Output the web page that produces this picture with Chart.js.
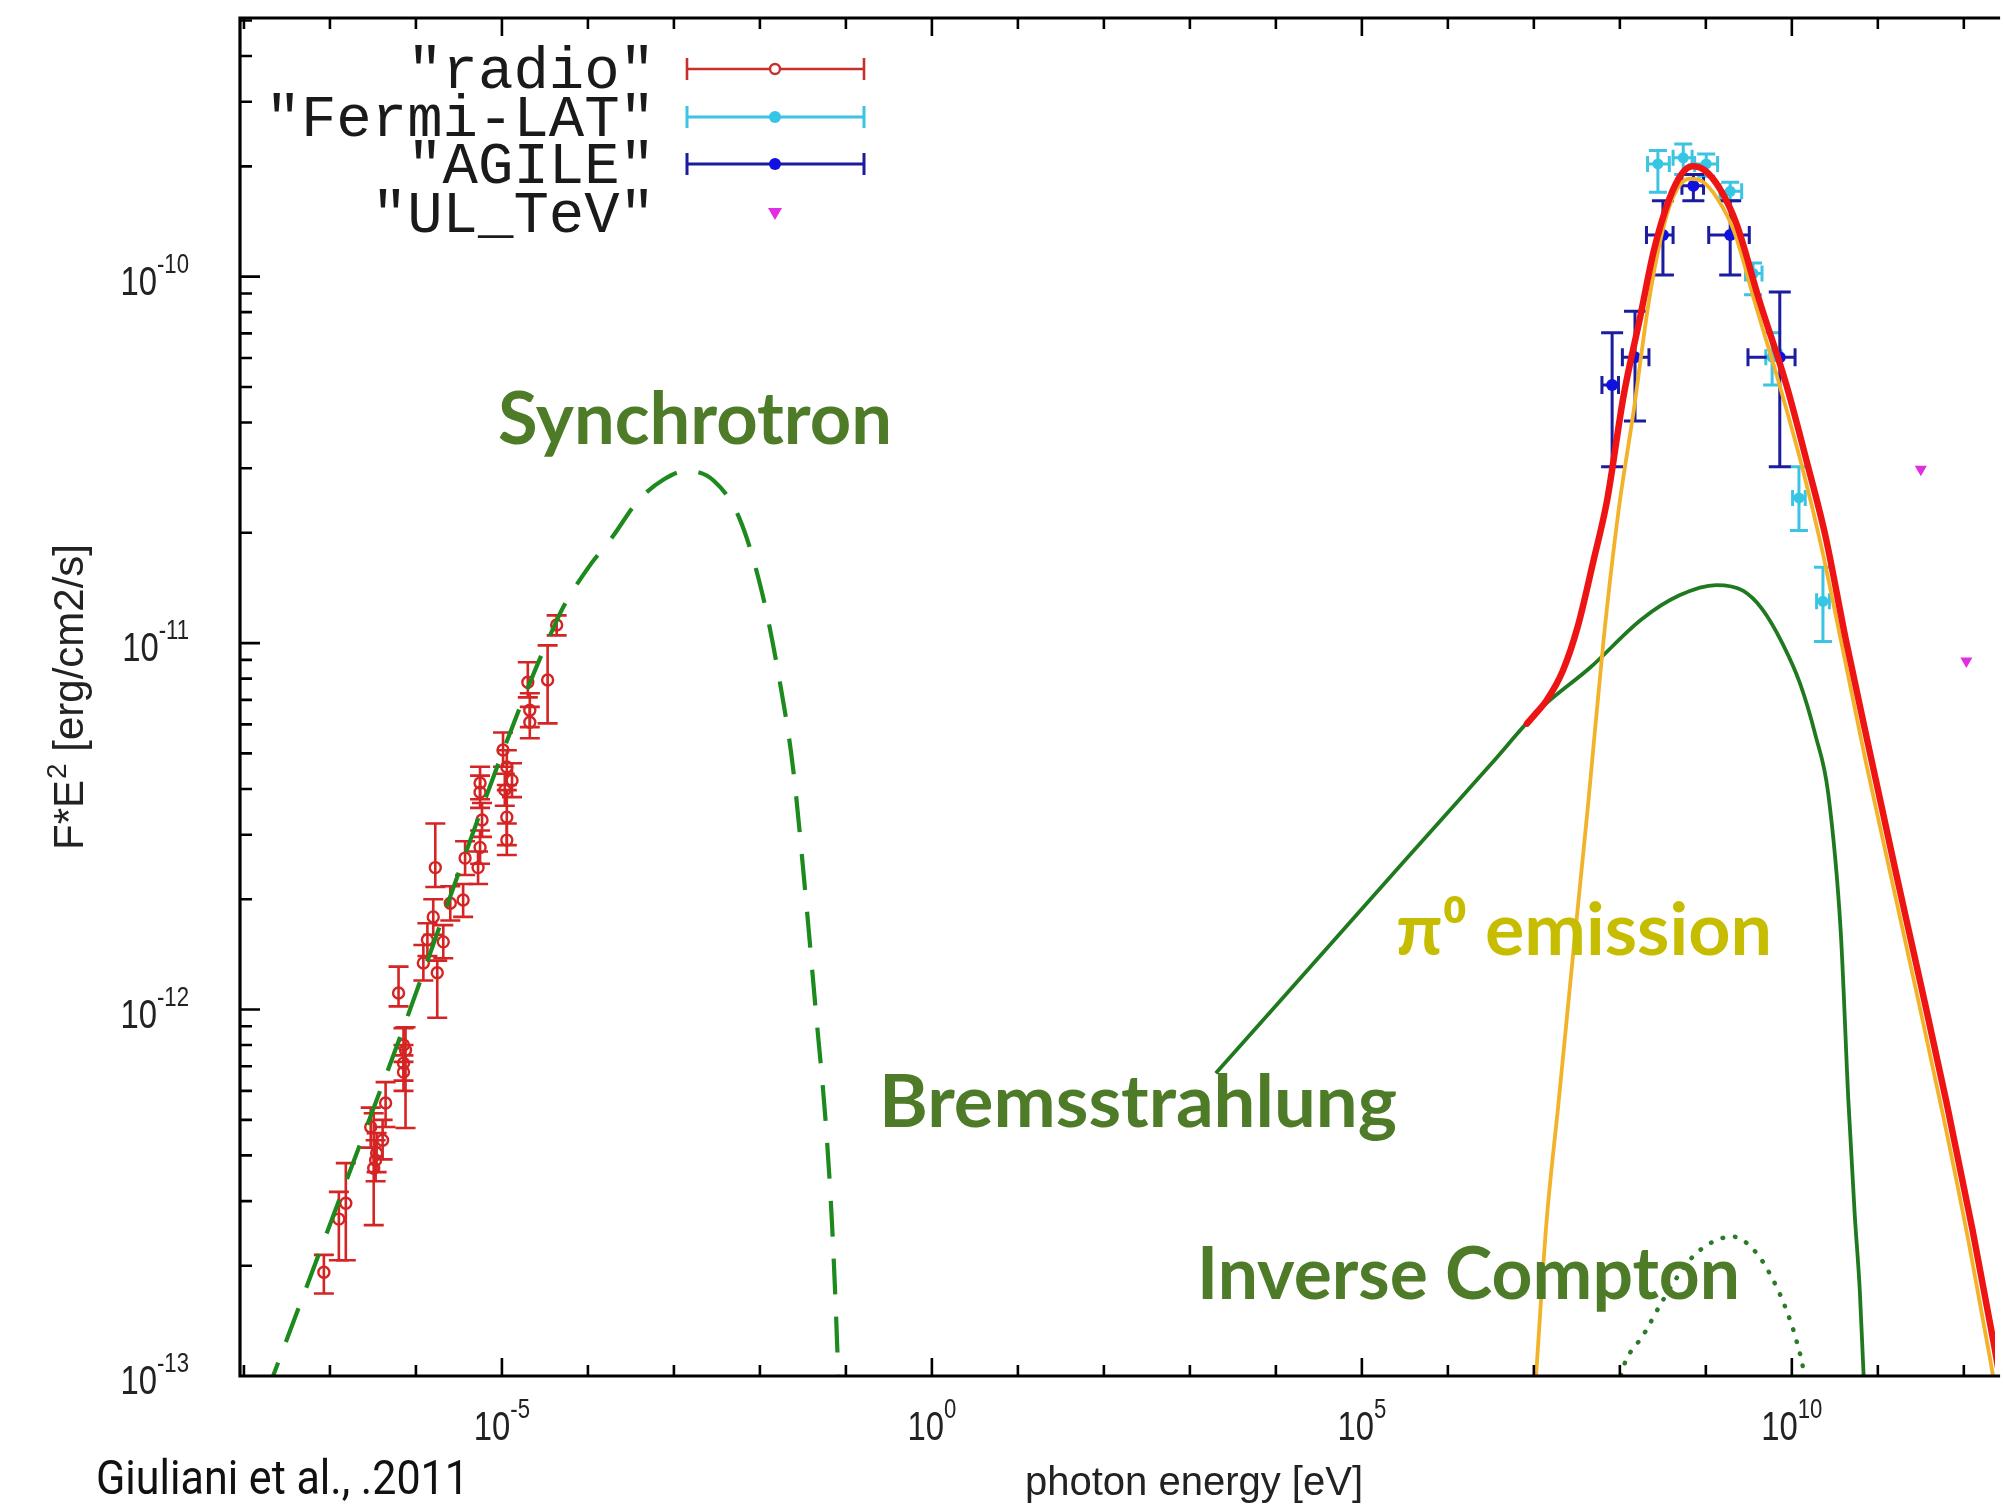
<!DOCTYPE html>
<html><head><meta charset="utf-8">
<script src="https://cdn.jsdelivr.net/npm/chart.js@4/dist/chart.umd.min.js"></script>
<style>html,body{margin:0;padding:0;background:#fff;overflow:hidden}canvas{display:block}</style>
</head><body>
<canvas id="c" width="2003" height="1510"></canvas>
<script>
// ---------------- DATA ----------------
const xTickExponents = [-5, 0, 5, 10];
const yTickExponents = [-13, -12, -11, -10];
const legendNames = ['"radio"', '"Fermi-LAT"', '"AGILE"', '"UL_TeV"'];
const annotationTexts = ['Synchrotron', 'π⁰ emission', 'Bremsstrahlung', 'Inverse Compton'];
const creditText = 'Giuliani et al., .2011';
const xTitle = 'photon energy [eV]';
const yTitleMain = 'F*E';
const yTitleSup = '2';
const yTitleRest = ' [erg/cm2/s]';

// radio data (eV, erg/cm2/s)
const radioE   = [8.5e-8,1.27e-7,1.53e-7,2.98e-7,3.23e-7,3.40e-7,3.49e-7,4.10e-7,4.44e-7,6.28e-7,7.17e-7,7.17e-7,7.57e-7,7.17e-7,1.22e-6,1.36e-6,1.59e-6,1.77e-6,2.08e-6,2.51e-6,3.54e-6,1.68e-6,3.73e-6,5.28e-6,5.57e-6,5.87e-6,5.57e-6,5.57e-6,1.03e-5,1.14e-5,1.31e-5,1.08e-5,1.14e-5,1.14e-5,2.0e-5,2.11e-5,2.11e-5,3.40e-5,4.33e-5];
const radioF   = [1.92e-13,2.68e-13,2.96e-13,4.78e-13,3.69e-13,3.88e-13,4.06e-13,4.40e-13,5.56e-13,1.11e-12,6.75e-13,7.14e-13,7.75e-13,8.0e-13,1.34e-12,1.55e-12,1.79e-12,1.26e-12,1.53e-12,1.95e-12,1.99e-12,2.44e-12,2.59e-12,2.44e-12,2.77e-12,3.29e-12,3.92e-12,4.15e-12,5.11e-12,4.59e-12,4.22e-12,3.97e-12,3.35e-12,2.90e-12,7.82e-12,6.56e-12,6.08e-12,7.93e-12,1.12e-11];
const radioFlo = [1.68e-13,2.07e-13,2.07e-13,4.2e-13,2.58e-13,3.4e-13,3.6e-13,3.9e-13,4.78e-13,1.02e-12,6.0e-13,6.4e-13,4.75e-13,7.2e-13,1.2e-12,1.4e-12,1.6e-12,9.5e-13,1.38e-12,1.75e-12,1.79e-12,2.16e-12,2.33e-12,2.2e-12,2.5e-12,2.96e-12,3.55e-12,3.75e-12,4.6e-12,4.1e-12,3.8e-12,3.6e-12,2.81e-12,2.64e-12,7.11e-12,5.9e-12,5.5e-12,6.04e-12,1.05e-11];
const radioFhi = [2.14e-13,3.18e-13,3.81e-13,5.4e-13,5.21e-13,4.4e-13,4.6e-13,5.0e-13,6.34e-13,1.31e-12,7.5e-13,8.0e-13,8.95e-13,8.9e-13,1.5e-12,1.72e-12,2.0e-12,1.36e-12,1.7e-12,2.17e-12,2.2e-12,3.22e-12,2.88e-12,2.7e-12,3.08e-12,3.66e-12,4.35e-12,4.6e-12,5.7e-12,5.1e-12,4.7e-12,4.4e-12,3.97e-12,3.22e-12,8.87e-12,7.3e-12,6.7e-12,9.86e-12,1.19e-11];

// Fermi-LAT
const fermiE   = [2.77e8,5.46e8,1.01e9,1.92e9,3.54e9,5.90e9,1.21e10,2.30e10];
const fermiElo = [2.10e8,4.16e8,7.41e8,1.46e9,2.89e9,4.98e9,1.02e10,1.94e10];
const fermiEhi = [3.76e8,6.92e8,1.37e9,2.61e9,4.50e9,7.48e9,1.43e10,2.73e10];
const fermiF   = [2.03e-10,2.11e-10,2.03e-10,1.71e-10,1.02e-10,6.03e-11,2.49e-11,1.30e-11];
const fermiFlo = [1.70e-10,1.90e-10,1.88e-10,1.61e-10,8.93e-11,5.06e-11,2.03e-11,1.01e-11];
const fermiFhi = [2.21e-10,2.30e-10,2.16e-10,1.81e-10,1.09e-10,7.03e-11,3.03e-11,1.61e-11];

// AGILE
const agileE   = [8.13e7,1.50e8,3.17e8,7.16e8,1.92e9,7.24e9];
const agileElo = [6.19e7,1.07e8,2.04e8,5.27e8,1.08e9,3.09e9];
const agileEhi = [9.64e7,2.18e8,4.16e8,9.40e8,3.20e9,1.09e10];
const agileF   = [5.06e-11,6.03e-11,1.30e-10,1.77e-10,1.30e-10,6.03e-11];
const agileFlo = [3.03e-11,4.04e-11,1.01e-10,1.61e-10,1.01e-10,3.03e-11];
const agileFhi = [7.03e-11,8.05e-11,1.61e-10,1.90e-10,1.61e-10,9.08e-11];

// TeV upper limits
const ulE = [3.16e11, 1.07e12];
const ulF = [2.98e-11, 8.93e-12];

// model curves
const synchE = [1.78e-8,4.23e-7,4.47e-5,9.77e-5,1.93e-4,3.80e-4,7.52e-4,1.39e-3,2.93e-3,5.78e-3,1.07e-2,1.72e-2,2.42e-2,3.39e-2,4.45e-2,5.85e-2,6.92e-2,7.94e-2,8.3e-2];
const synchF = [8.8e-14,6.38e-13,1.17e-11,1.59e-11,1.95e-11,2.44e-11,2.79e-11,2.95e-11,2.77e-11,2.19e-11,1.36e-11,7.74e-12,4.59e-12,2.06e-12,1.0e-12,4.85e-13,2.56e-13,1.19e-13,8.5e-14];

const bremsE = [2.0e3,3.16e5,3.16e6,1.17e7,4.56e7,1.78e8,4.93e8,1.32e9,2.70e9,4.50e9,7.74e9,1.25e10,1.88e10,2.64e10,3.71e10,4.54e10,5.38e10,6.17e10,6.84e10,7.31e10];
const bremsF = [6.70e-13,2.55e-12,4.67e-12,6.59e-12,8.59e-12,1.16e-11,1.35e-11,1.44e-11,1.39e-11,1.24e-11,1.0e-11,7.74e-12,5.61e-12,3.91e-12,1.62e-12,5.66e-13,2.77e-13,1.71e-13,1.0e-13,7.7e-14];

const pionE = [1.0e7,1.06e7,1.39e7,1.95e7,2.83e7,4.26e7,6.41e7,9.64e7,1.45e8,2.18e8,3.28e8,4.61e8,6.47e8,9.10e8,1.37e9,2.13e9,3.79e9,7.48e9,1.38e10,2.22e10,3.83e10,7.31e10,1.45e11,2.85e11,5.75e11,1.15e12,2.04e12,3.16e12];
const pionF = [8.3e-14,1.0e-13,2.56e-13,5.66e-13,1.38e-12,3.60e-12,1.0e-11,2.29e-11,4.31e-11,8.59e-11,1.39e-10,1.73e-10,1.85e-10,1.82e-10,1.63e-10,1.33e-10,8.37e-11,4.90e-11,2.90e-11,1.82e-11,9.84e-12,4.70e-12,2.26e-12,1.10e-12,5.13e-13,2.29e-13,1.10e-13,6.0e-14];

const icE = [9.55e7,1.10e8,1.90e8,3.17e8,6.47e8,1.19e9,2.06e9,3.79e9,5.90e9,8.59e9,1.13e10,1.38e10,1.48e10];
const icF = [9.3e-14,1.06e-13,1.30e-13,1.61e-13,2.07e-13,2.32e-13,2.40e-13,2.18e-13,1.85e-13,1.52e-13,1.25e-13,1.02e-13,8.9e-14];

const totalE = [8.32e6,1.10e7,1.39e7,2.16e7,3.24e7,4.88e7,7.10e7,1.10e8,1.72e8,2.49e8,3.76e8,5.27e8,6.93e8,9.73e8,1.47e9,2.28e9,4.20e9,8.59e9,1.48e10,2.47e10,4.25e10,8.11e10,1.60e11,3.16e11,6.31e11,1.26e12,2.27e12,3.55e12];
const totalF = [6.03e-12,6.50e-12,6.95e-12,8.38e-12,1.11e-11,1.66e-11,2.45e-11,4.70e-11,7.74e-11,1.18e-10,1.63e-10,1.91e-10,2.00e-10,1.95e-10,1.73e-10,1.39e-10,8.59e-11,5.09e-11,3.15e-11,1.95e-11,1.02e-11,5.01e-12,2.40e-12,1.17e-12,5.56e-13,2.51e-13,1.20e-13,6.6e-14];

// ---------------- STYLE ----------------
const C = {
  radio: '#d42424', fermi: '#35c6e6', fermiBar: '#3cc4e2', agile: '#1010e0', agileBar: '#1c1c9e',
  ul: '#e22ee2', synch: '#1d8a1d', brems: '#1f7a1f', pion: '#f2b32a', total: '#ee1414', ic: '#2a7a2a',
  label: '#4e7b27', pionLabel: '#c6bd00', axis: '#000', text: '#222'
};
const pts = (xs, ys) => xs.map((x, i) => ({x, y: ys[i]}));

function sText(ctx, s, x, y, sx) {
  ctx.save(); ctx.translate(x, y); ctx.scale(sx, 1); ctx.fillText(s, 0, 0); ctx.restore();
}
function fitText(ctx, s, x, y, font, color, width) {
  ctx.save(); ctx.font = font; ctx.fillStyle = color; ctx.textAlign = 'left'; ctx.textBaseline = 'alphabetic';
  const w = ctx.measureText(s).width; sText(ctx, s, x, y, width / w); ctx.restore();
}
function drawPow(ctx, exp, x, y, align) {
  const sx = 0.82, big = '40px "Liberation Sans", Arial, sans-serif', small = '27px "Liberation Sans", Arial, sans-serif';
  ctx.save(); ctx.fillStyle = C.text; ctx.textAlign = 'left'; ctx.textBaseline = 'alphabetic';
  ctx.font = big; const w1 = ctx.measureText('10').width * sx;
  ctx.font = small; const es = String(exp); const w2 = ctx.measureText(es).width * sx;
  const tot = w1 + w2; const x0 = align === 'center' ? x - tot / 2 : x - tot;
  ctx.font = big; sText(ctx, '10', x0, y, sx);
  ctx.font = small; sText(ctx, es, x0 + w1, y - 22, sx);
  ctx.restore();
}

// ---------------- PLUGINS ----------------
const errorBars = {
  id: 'errorBars',
  beforeDatasetsDraw(chart) {
    const {ctx, chartArea: a, scales: {x, y}} = chart;
    ctx.save();
    ctx.beginPath(); ctx.rect(a.left, a.top, a.right - a.left, a.bottom - a.top); ctx.clip();
    const vbar = (E, lo, hi, cap, col, lw) => {
      const px = x.getPixelForValue(E), p1 = y.getPixelForValue(lo), p2 = y.getPixelForValue(hi);
      ctx.strokeStyle = col; ctx.lineWidth = lw; ctx.beginPath();
      ctx.moveTo(px, p1); ctx.lineTo(px, p2);
      ctx.moveTo(px - cap, p1); ctx.lineTo(px + cap, p1);
      ctx.moveTo(px - cap, p2); ctx.lineTo(px + cap, p2); ctx.stroke();
    };
    const hbar = (lo, hi, F, cap, col, lw) => {
      const py = y.getPixelForValue(F), p1 = x.getPixelForValue(lo), p2 = x.getPixelForValue(hi);
      ctx.strokeStyle = col; ctx.lineWidth = lw; ctx.beginPath();
      ctx.moveTo(p1, py); ctx.lineTo(p2, py);
      ctx.moveTo(p1, py - cap); ctx.lineTo(p1, py + cap);
      ctx.moveTo(p2, py - cap); ctx.lineTo(p2, py + cap); ctx.stroke();
    };
    radioE.forEach((E, i) => vbar(E, radioFlo[i], radioFhi[i], 10, C.radio, 2.6));
    fermiE.forEach((E, i) => { vbar(E, fermiFlo[i], fermiFhi[i], 9, C.fermiBar, 3); hbar(fermiElo[i], fermiEhi[i], fermiF[i], 8, C.fermiBar, 3); });
    agileE.forEach((E, i) => { vbar(E, agileFlo[i], agileFhi[i], 11, C.agileBar, 3); hbar(agileElo[i], agileEhi[i], agileF[i], 9, C.agileBar, 3); });
    ctx.restore();
  }
};

const frame = {
  id: 'frame',
  afterDraw(chart) {
    const {ctx, chartArea: a, scales: {x, y}} = chart;
    ctx.save();
    ctx.strokeStyle = C.axis; ctx.lineWidth = 3.2; ctx.lineCap = 'butt';
    ctx.beginPath();
    ctx.moveTo(a.right + 5, a.top); ctx.lineTo(a.left, a.top); ctx.lineTo(a.left, a.bottom); ctx.lineTo(a.right + 5, a.bottom);
    ctx.stroke();
    ctx.lineWidth = 2.6; ctx.beginPath();
    const xmin = Math.ceil(Math.log10(x.min)), xmax = Math.floor(Math.log10(x.max));
    for (let e = xmin; e <= xmax; e++) {
      const px = x.getPixelForValue(Math.pow(10, e));
      if (px <= a.left + 2) continue;
      const len = (e % 5 === 0) ? 18 : 11;
      ctx.moveTo(px, a.bottom); ctx.lineTo(px, a.bottom - len);
      ctx.moveTo(px, a.top); ctx.lineTo(px, a.top + len);
    }
    const ymin = Math.floor(Math.log10(y.min)), ymax = Math.ceil(Math.log10(y.max));
    for (let e = ymin; e <= ymax; e++) {
      for (let k = 1; k <= 9; k++) {
        const v = k * Math.pow(10, e);
        if (v < y.min * 0.999 || v > y.max) continue;
        const py = y.getPixelForValue(v);
        if (py >= a.bottom - 1) continue;
        const len = k === 1 ? 20 : 12;
        ctx.moveTo(a.left, py); ctx.lineTo(a.left + len, py);
      }
    }
    ctx.stroke();
    // tick labels
    xTickExponents.forEach(e => drawPow(ctx, e, x.getPixelForValue(Math.pow(10, e)), a.bottom + 64, 'center'));
    yTickExponents.forEach(e => drawPow(ctx, e, 189, y.getPixelForValue(Math.pow(10, e)) + 18, 'right'));
    // axis titles
    ctx.fillStyle = C.text; ctx.textBaseline = 'alphabetic';
    ctx.font = '40px "Liberation Sans", Arial, sans-serif'; ctx.textAlign = 'center';
    ctx.fillText(xTitle, 1194, 1495);
    ctx.save(); ctx.translate(83, 850); ctx.rotate(-Math.PI / 2); ctx.textAlign = 'left';
    ctx.font = '42px "Liberation Sans", Arial, sans-serif';
    let w = ctx.measureText(yTitleMain).width; ctx.fillText(yTitleMain, 0, 0);
    ctx.font = '28px "Liberation Sans", Arial, sans-serif'; ctx.fillText(yTitleSup, w + 1, -17);
    w += ctx.measureText(yTitleSup).width + 1;
    ctx.font = '42px "Liberation Sans", Arial, sans-serif'; ctx.fillText(yTitleRest, w, 0);
    ctx.restore();
    // legend
    const rows = [69, 117, 164, 213];
    ctx.font = '59px "Liberation Mono", "DejaVu Sans Mono", monospace'; ctx.textAlign = 'right'; ctx.textBaseline = 'middle';
    ctx.fillStyle = '#1a1a1a';
    legendNames.forEach((n, i) => ctx.fillText(n, 655, rows[i] + 3));
    const lx1 = 687, lx2 = 864, lxc = 775;
    const sample = (yy, col, lw) => {
      ctx.strokeStyle = col; ctx.lineWidth = lw; ctx.beginPath();
      ctx.moveTo(lx1, yy); ctx.lineTo(lx2, yy);
      ctx.moveTo(lx1, yy - 11); ctx.lineTo(lx1, yy + 11);
      ctx.moveTo(lx2, yy - 11); ctx.lineTo(lx2, yy + 11); ctx.stroke();
    };
    sample(rows[0], '#c83030', 2.6);
    ctx.beginPath(); ctx.arc(lxc, rows[0], 5, 0, Math.PI * 2); ctx.fillStyle = '#fff'; ctx.fill(); ctx.strokeStyle = '#c83030'; ctx.lineWidth = 2.4; ctx.stroke();
    sample(rows[1], C.fermiBar, 3);
    ctx.beginPath(); ctx.arc(lxc, rows[1], 6, 0, Math.PI * 2); ctx.fillStyle = C.fermi; ctx.fill();
    sample(rows[2], C.agileBar, 3);
    ctx.beginPath(); ctx.arc(lxc, rows[2], 6, 0, Math.PI * 2); ctx.fillStyle = C.agile; ctx.fill();
    ctx.beginPath(); ctx.moveTo(lxc - 7, rows[3] - 5); ctx.lineTo(lxc + 7, rows[3] - 5); ctx.lineTo(lxc, rows[3] + 7); ctx.closePath(); ctx.fillStyle = C.ul; ctx.fill();
    // annotations
    const lab = 'bold 72px Lato, "Noto Sans", sans-serif';
    fitText(ctx, annotationTexts[0], 498, 444, lab, C.label, 394);
    fitText(ctx, annotationTexts[1], 1396, 955, lab, C.pionLabel, 376);
    fitText(ctx, annotationTexts[2], 879, 1127, lab, C.label, 518);
    fitText(ctx, annotationTexts[3], 1197, 1299, lab, C.label, 543);
    fitText(ctx, creditText, 96, 1494, '49px Roboto, "Noto Sans", sans-serif', '#111', 373);
    ctx.restore();
  }
};

// ---------------- CHART ----------------
const curve = (data, color, width, order, extra) => Object.assign({
  data, type: 'scatter', showLine: true, borderColor: color, borderWidth: width, pointRadius: 0,
  cubicInterpolationMode: 'monotone', fill: false, order
}, extra || {});

new Chart(document.getElementById('c'), {
  type: 'scatter',
  data: {
    datasets: [
      curve(pts(totalE, totalF), C.total, 6.5, 0, {borderCapStyle: 'round'}),
      curve(pts(pionE, pionF), C.pion, 3.8, 1),
      curve(pts(bremsE, bremsF), C.brems, 3.8, 2),
      curve(pts(icE, icF), C.ic, 4.5, 3, {borderDash: [0.5, 12], borderCapStyle: 'round'}),
      curve(pts(synchE, synchF), C.synch, 4.2, 4, {borderDash: [36, 22], borderCapStyle: 'butt'}),
      {data: pts(radioE, radioF), order: 10, pointStyle: 'circle', pointRadius: 5.5, borderColor: C.radio, backgroundColor: 'rgba(255,255,255,0)', borderWidth: 2.4},
      {data: pts(fermiE, fermiF), order: 10, pointStyle: 'circle', pointRadius: 5.5, borderWidth: 0, backgroundColor: C.fermi},
      {data: pts(agileE, agileF), order: 10, pointStyle: 'circle', pointRadius: 6, borderWidth: 0, backgroundColor: C.agile},
      {data: pts(ulE, ulF), order: 10, pointStyle: 'triangle', rotation: 180, pointRadius: 7, borderWidth: 0, backgroundColor: C.ul}
    ]
  },
  options: {
    responsive: false, animation: false, devicePixelRatio: 1,
    layout: {padding: {left: 240, top: 18, right: 0, bottom: 134}},
    plugins: {legend: {display: false}, tooltip: {enabled: false}},
    scales: {
      x: {type: 'logarithmic', min: 9.0e-9, max: 2.31e12, ticks: {display: false}, grid: {display: false}, border: {display: false}, afterFit: s => { s.height = 0; }},
      y: {type: 'logarithmic', min: 1e-13, max: 5.08e-10, ticks: {display: false}, grid: {display: false}, border: {display: false}, afterFit: s => { s.width = 0; }}
    }
  },
  plugins: [errorBars, frame]
});
</script>
</body></html>
